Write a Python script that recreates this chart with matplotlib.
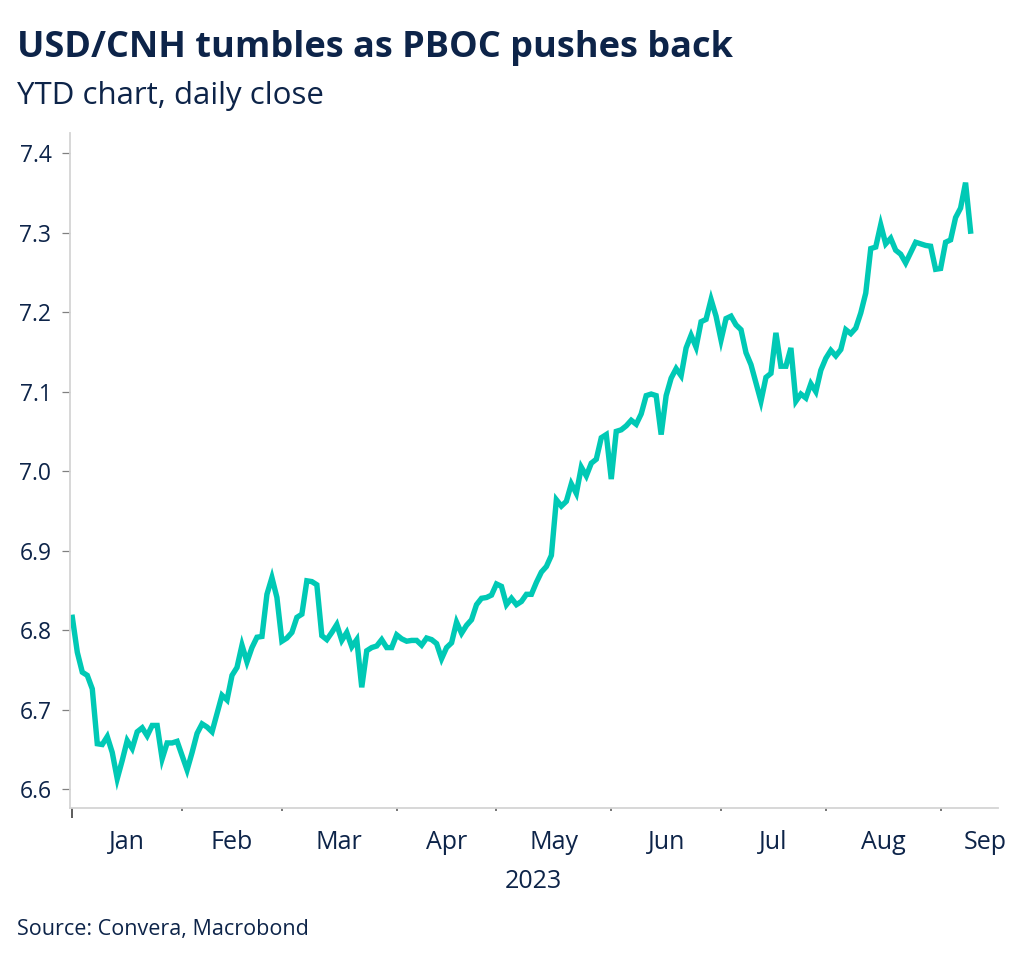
import numpy as np
import pandas as pd
import matplotlib
matplotlib.use('Agg')
import matplotlib.pyplot as plt

# USD/CNH daily close, business days
jan = [6.816, 6.772, 6.747, 6.743, 6.726, 6.657, 6.656, 6.666, 6.646, 6.613, 6.636,
       6.661, 6.651, 6.672, 6.677, 6.667, 6.680, 6.680, 6.638, 6.658, 6.658, 6.660]
feb = [6.642, 6.624, 6.646, 6.670, 6.682, 6.678, 6.672, 6.695, 6.718, 6.712,
       6.743, 6.753, 6.781, 6.760, 6.778, 6.791, 6.792, 6.845, 6.866, 6.841]
mar = [6.786, 6.790, 6.797, 6.816, 6.820, 6.862, 6.861, 6.857, 6.793, 6.788, 6.797, 6.807,
       6.787, 6.797, 6.779, 6.788, 6.728, 6.774, 6.778, 6.780, 6.788, 6.778, 6.778]
apr = [6.794, 6.789, 6.786, 6.787, 6.787, 6.781, 6.790, 6.788, 6.783, 6.764,
       6.778, 6.784, 6.810, 6.796, 6.806, 6.813, 6.832, 6.840, 6.841, 6.844]
may = [6.858, 6.855, 6.832, 6.840, 6.832, 6.836, 6.845, 6.845, 6.860, 6.873, 6.880, 6.894,
       6.964, 6.956, 6.962, 6.984, 6.972, 7.005, 6.994, 7.010, 7.015, 7.042, 7.046]
jun = [6.990, 7.050, 7.052, 7.057, 7.064, 7.059, 7.072, 7.095, 7.097, 7.095, 7.046,
       7.095, 7.117, 7.129, 7.120, 7.155, 7.171, 7.156, 7.188, 7.191, 7.216, 7.195]
jul = [7.165, 7.192, 7.195, 7.184, 7.178, 7.149, 7.134, 7.111, 7.088, 7.118, 7.123,
       7.174, 7.132, 7.132, 7.155, 7.088, 7.097, 7.092, 7.110, 7.100, 7.127]
aug = [7.142, 7.152, 7.145, 7.153, 7.178, 7.173, 7.180, 7.199, 7.224, 7.280, 7.282, 7.310,
       7.286, 7.293, 7.278, 7.273, 7.262, 7.275, 7.288, 7.286, 7.284, 7.283, 7.254]
sep = [7.255, 7.288, 7.291, 7.319, 7.331, 7.363, 7.302]

yticks = [6.6, 6.7, 6.8, 6.9, 7.0, 7.1, 7.2, 7.3, 7.4]

title = 'USD/CNH tumbles as PBOC pushes back'
subtitle = 'YTD chart, daily close'
source = 'Source: Convera, Macrobond'

navy = '#0d2449'
teal = '#00c9b5'
plt.rcParams['font.family'] = ['Open Sans', 'DejaVu Sans']

values = jan + feb + mar + apr + may + jun + jul + aug + sep
dates = pd.bdate_range('2023-01-02', periods=len(values))
x = np.arange(len(values))

# first business day of each month -> tick positions
months = dates.month.values
starts = [0] + [i for i in range(1, len(months)) if months[i] != months[i - 1]]
labels = [dates[i].strftime('%b') for i in starts]
mids = [(starts[k] + starts[k + 1]) / 2 for k in range(len(starts) - 1)] + [starts[-1] + 9]

fig = plt.figure(figsize=(10.24, 9.65), dpi=100)
ax = fig.add_axes([0.0679, 0.1630, 0.9067, 0.6992])

ax.plot(x, values, color=teal, linewidth=3.9, solid_joinstyle='miter')

ax.set_xlim(-0.56, 185.5)
ax.set_ylim(6.5765, 7.4255)

ax.set_yticks(yticks)
ax.set_yticklabels([f'{v:.1f}' for v in yticks])
ax.tick_params(axis='y', length=6, width=0.9, color='#808080', pad=7,
               labelsize=16.5, labelcolor=navy)

ax.set_xticks(starts[1:])
ax.set_xticklabels([])
ax.tick_params(axis='x', which='major', length=2.5, width=1.2, color='#606060')
ax.set_xticks([0], minor=True)
ax.tick_params(axis='x', which='minor', length=7, width=1.2, color='#404040')

for m, lab in zip(mids, labels):
    ax.text(m, -0.052, lab, transform=ax.get_xaxis_transform(), ha='center', va='center',
            fontsize=18, color=navy, clip_on=False)

for side in ['top', 'right']:
    ax.spines[side].set_visible(False)
for side in ['left', 'bottom']:
    ax.spines[side].set_color('#d4d4d4')
    ax.spines[side].set_linewidth(1.3)

fig.text(533 / 1024, 1 - 882 / 965, '2023', ha='center', va='center', fontsize=18, color=navy)
fig.text(17 / 1024, 1 - 57.3 / 965, title, ha='left', va='baseline', fontsize=26,
         fontweight='bold', color=navy)
fig.text(17 / 1024, 1 - 104.3 / 965, subtitle, ha='left', va='baseline', fontsize=22.5,
         color=navy)
fig.text(17 / 1024, 1 - 930 / 965, source, ha='left', va='center', fontsize=15.5, color=navy)

fig.savefig('out.png', dpi=100)
